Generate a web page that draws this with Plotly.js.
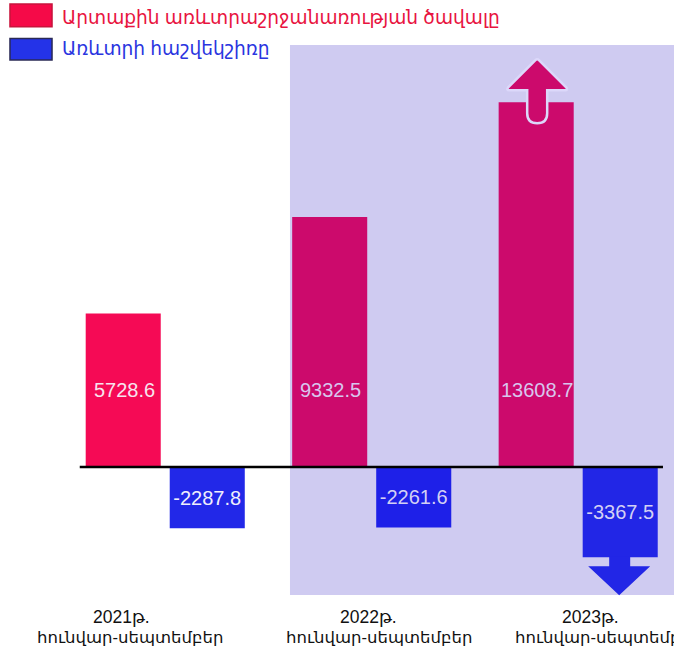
<!DOCTYPE html>
<html>
<head>
<meta charset="utf-8">
<script src="https://cdn.plot.ly/plotly-3.0.1.min.js"></script>
<style>html,body{margin:0;padding:0;background:#fff;}#chart{width:674px;height:653px;}</style>
</head>
<body>
<div id="chart"></div>
<script>
const categories = ["2021", "2022", "2023"];
const yearLabels = ["2021թ.", "2022թ.", "2023թ."];
const periodLabel = "հունվար-սեպտեմբեր";
const seriesNames = ["Արտաքին առևտրաշրջանառության ծավալը", "Առևտրի հաշվեկշիռը"];
const turnover = [5728.6, 9332.5, 13608.7];
const balance = [-2287.8, -2261.6, -3367.5];

const FONT = "Liberation Sans, Arial, DejaVu Sans, Noto Sans, sans-serif";
const redColors = ["#f50a55", "#cc0a6c", "#cc0a6c"];
const blueColors = ["#2228e8", "#1e20e8", "#2226e6"];
const redText = ["#f7e4ee", "#d8c6ee", "#d8c6ee"];
const blueText = ["#f0eefc", "#d4d0f4", "#d4d0f4"];

const traces = [
  {
    type: "bar", name: seriesNames[0], x: categories, y: turnover,
    marker: {color: redColors, line: {width: 0}},
    hoverinfo: "none", showlegend: false
  },
  {
    type: "bar", name: seriesNames[1], x: categories, y: balance,
    marker: {color: blueColors, line: {width: 0}},
    text: balance.map(v => String(v)), textposition: "inside", insidetextanchor: "middle",
    textangle: 0, constraintext: "none",
    textfont: {family: FONT, size: 20, color: blueText},
    hoverinfo: "none", showlegend: false
  }
];

const annotations = [];
// value labels for turnover bars (category index on the x axis)
turnover.forEach((v, i) => {
  annotations.push({
    x: i, y: 0, xref: "x", yref: "y", xshift: -41, yshift: 77,
    text: String(v), showarrow: false, xanchor: "center", yanchor: "middle",
    font: {family: FONT, size: 20, color: redText[i]}
  });
});
// category labels (two lines)
const yearShift = [-44, -3, 12];
const periodShift = [-35, 7, 30];
categories.forEach((c, i) => {
  annotations.push({
    x: i, y: 0.0551, xref: "x", yref: "paper", xshift: yearShift[i],
    text: yearLabels[i], showarrow: false, xanchor: "center", yanchor: "middle",
    font: {family: FONT, size: 17.5, color: "#111"}
  });
  annotations.push({
    x: i, y: 0.0245, xref: "x", yref: "paper", xshift: periodShift[i],
    text: periodLabel, showarrow: false, xanchor: "center", yanchor: "middle",
    font: {family: FONT, size: 16.5, color: "#111"}
  });
});
// legend texts
annotations.push({
  x: -0.0033, y: 0.9735, xref: "paper", yref: "paper", xanchor: "left", yanchor: "middle",
  text: seriesNames[0], showarrow: false, font: {family: FONT, size: 18.6, color: "#e8143f"}
});
annotations.push({
  x: -0.0033, y: 0.926, xref: "paper", yref: "paper", xanchor: "left", yanchor: "middle",
  text: seriesNames[1], showarrow: false, font: {family: FONT, size: 18.6, color: "#2a35e0"}
});

const shapes = [
  // lavender panel
  {type: "rect", xref: "paper", yref: "paper", x0: 0.3725, x1: 1.0, y0: 0.0888, y1: 0.931,
   fillcolor: "#cfcbf1", line: {width: 0}, layer: "below"},
  // zero line
  {type: "line", xref: "paper", yref: "y", x0: 0.029, x1: 0.982, y0: 0, y1: 0,
   line: {color: "#000", width: 2.5}, layer: "above"},
  // legend boxes
  {type: "rect", xref: "paper", yref: "paper", x0: -0.085, x1: -0.0163, y0: 0.959, y1: 0.994,
   fillcolor: "#f50a48", line: {color: "#c8143c", width: 1.5}},
  {type: "rect", xref: "paper", yref: "paper", x0: -0.085, x1: -0.0163, y0: 0.908, y1: 0.941,
   fillcolor: "#2433e8", line: {color: "#2a2a55", width: 1.5}},
  // up arrow on last turnover bar
  {type: "path", xref: "x", yref: "y", xsizemode: "pixel", ysizemode: "pixel",
   xanchor: 2, yanchor: turnover[2],
   path: "M -51,-11 L -51,12 L -69,12 Q -72,12 -70,15 L -43,42 Q -41,44 -39,42 L -12,15 Q -10,12 -13,12 L -31,12 L -31,-11 Q -31,-21 -41,-21 Q -51,-21 -51,-11 Z",
   fillcolor: "#cc0a6c", line: {color: "#dcd8fa", width: 2.5}, layer: "above"},
  // down arrow under last balance bar
  {type: "path", xref: "x", yref: "y", xsizemode: "pixel", ysizemode: "pixel",
   xanchor: 2, yanchor: balance[2],
   path: "M 31,1 L 52,1 L 52,-9 L 72,-9 L 41,-38 L 10,-9 L 31,-9 Z",
   fillcolor: "#2226e6", line: {width: 0}, layer: "above"}
];

const layout = {
  width: 674, height: 653,
  margin: {l: 62, r: 0, t: 0, b: 0, pad: 0},
  paper_bgcolor: "#ffffff", plot_bgcolor: "rgba(0,0,0,0)",
  barmode: "group", bargap: 0.186, bargroupgap: 0.107,
  showlegend: false,
  xaxis: {type: "category", range: [-0.5, 2.464], showticklabels: false, showgrid: false,
          zeroline: false, showline: false, ticks: "", fixedrange: true},
  yaxis: {range: [-6940, 17425], showticklabels: false, showgrid: false, zeroline: false,
          showline: false, ticks: "", fixedrange: true},
  annotations: annotations,
  shapes: shapes,
  font: {family: FONT}
};

Plotly.newPlot("chart", traces, layout, {displayModeBar: false, staticPlot: true});
</script>
</body>
</html>
